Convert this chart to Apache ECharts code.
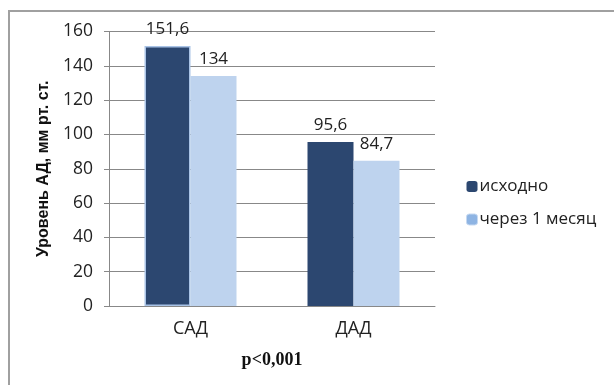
<!DOCTYPE html>
<html>
<head>
<meta charset="utf-8">
<script src="https://cdn.jsdelivr.net/npm/echarts@6/dist/echarts.min.js"></script>
<style>
  html, body { margin: 0; padding: 0; background: #fff; overflow: hidden; }
  #frame { position: absolute; left: 8px; top: 10px; width: 640px; height: 400px;
           border: 2px solid #a0a0a0; box-sizing: border-box; }
  #chart { position: absolute; left: 0; top: 0; width: 614px; height: 385px; }
</style>
</head>
<body>
<div id="frame"></div>
<div id="chart"></div>
<script>
// Blood pressure before and after one month of treatment
const categories = ['САД', 'ДАД'];
const seriesNames = ['исходно', 'через 1 месяц'];
const baselineValues = [151.6, 95.6];
const monthValues = [134, 84.7];
const yTicks = { min: 0, max: 160, interval: 20 };
const axisTitle = 'Уровень АД, мм рт. ст.';
const footnote = 'p<0,001';

const fmt = v => String(v).replace('.', ',');
const font = 'Open Sans';

const chart = echarts.init(document.getElementById('chart'), null, { renderer: 'canvas' });

const labelStyle = {
  show: true,
  position: 'top',
  distance: 8,
  fontFamily: font,
  fontSize: 17,
  color: '#222',
  formatter: p => fmt(p.value)
};

chart.setOption({
  animation: false,
  textStyle: { fontFamily: font },
  grid: { left: 109, right: 179, top: 31.5, bottom: 79, containLabel: false },
  legend: {
    orient: 'vertical',
    left: 466,
    top: 178,
    padding: 0,
    itemWidth: 11,
    itemHeight: 11,
    itemGap: 16,
    textStyle: { fontFamily: font, fontSize: 17, color: '#222', padding: [0, 0, 0, -3] },
    data: [
      { name: seriesNames[0], itemStyle: { color: '#2C4770' } },
      { name: seriesNames[1], itemStyle: { color: '#8EB4E3', borderColor: '#C6D9F1', borderWidth: 1 } }
    ]
  },
  xAxis: {
    type: 'category',
    data: categories,
    axisLine: { lineStyle: { color: '#888', width: 1 } },
    axisTick: { show: false },
    axisLabel: { fontFamily: font, fontSize: 18, color: '#222', margin: 14 },
    name: footnote,
    nameLocation: 'middle',
    nameGap: 45,
    nameTextStyle: {
      fontFamily: 'Liberation Serif', fontWeight: 'bold', fontSize: 18, color: '#111'
    }
  },
  yAxis: {
    type: 'value',
    min: yTicks.min,
    max: yTicks.max,
    interval: yTicks.interval,
    axisLine: { show: true, lineStyle: { color: '#888', width: 1 } },
    axisTick: { show: true, length: 5, lineStyle: { color: '#888' } },
    splitLine: { lineStyle: { color: '#888', width: 1 } },
    axisLabel: { fontFamily: font, fontSize: 17.5, color: '#222', margin: 16 },
    name: axisTitle,
    nameLocation: 'middle',
    nameGap: 53,
    nameTextStyle: { fontFamily: 'Liberation Sans', fontWeight: 'bold', fontSize: 16, color: '#111' }
  },
  series: [
    {
      name: seriesNames[0],
      type: 'bar',
      barWidth: 46,
      barGap: '0%',
      itemStyle: { color: '#2C4770' },
      label: labelStyle,
      data: baselineValues.map((v, i) => i === 0
        ? { value: v, itemStyle: { borderColor: '#A9C3E6', borderWidth: 1.5 } }
        : v)
    },
    {
      name: seriesNames[1],
      type: 'bar',
      barWidth: 46,
      barGap: '0%',
      itemStyle: { color: '#BED3EE' },
      label: labelStyle,
      data: monthValues
    }
  ]
});
</script>
</body>
</html>
